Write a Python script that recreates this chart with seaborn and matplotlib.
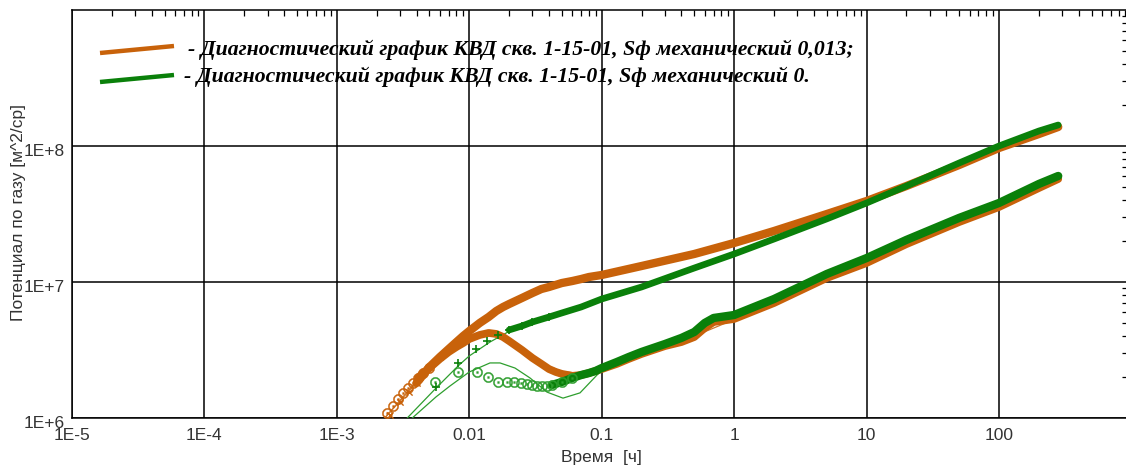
import numpy as np
import pandas as pd
import matplotlib
matplotlib.use("Agg")
import matplotlib.pyplot as plt
import matplotlib.transforms as mtransforms
from matplotlib.lines import Line2D
from matplotlib.ticker import LogLocator, NullFormatter
import seaborn as sns

# ---------------- data ----------------
# Sf mechanical 0.013 (orange): pressure potential & derivative
orange_p_t = [0.0025, 0.003, 0.0035, 0.004, 0.005, 0.006, 0.007, 0.008, 0.009, 0.01,
              0.012, 0.014, 0.016, 0.018, 0.02, 0.025, 0.03, 0.035, 0.04, 0.05,
              0.06, 0.07, 0.08, 0.1, 0.2, 0.5, 1, 2, 5, 10, 20, 50, 100, 200, 280]
orange_p = [1.05e6, 1.31e6, 1.55e6, 1.81e6, 2.37e6, 2.81e6, 3.22e6, 3.62e6, 4.01e6, 4.36e6,
            5.00e6, 5.53e6, 6.12e6, 6.55e6, 6.89e6, 7.63e6, 8.30e6, 8.88e6, 9.19e6, 9.83e6,
            10.17e6, 10.52e6, 10.88e6, 11.26e6, 13.11e6, 16.07e6, 19.36e6, 23.71e6, 31.6e6,
            39.4e6, 50.8e6, 72.5e6, 96.7e6, 122.5e6, 138e6]

orange_d_t = [0.00239, 0.00265, 0.00289, 0.00316, 0.00344, 0.00376, 0.0041, 0.00447,
              0.005, 0.006, 0.007, 0.008, 0.009, 0.01, 0.012, 0.014, 0.016, 0.018, 0.02,
              0.025, 0.03, 0.035, 0.04, 0.045, 0.05, 0.06, 0.07, 0.08, 0.09, 0.1,
              0.13, 0.16, 0.2, 0.3, 0.4, 0.5, 0.6, 0.7, 1, 2, 5, 10, 20, 50, 100, 200, 280]
orange_d = [1.09e6, 1.23e6, 1.38e6, 1.53e6, 1.66e6, 1.81e6, 1.97e6, 2.14e6,
            2.33e6, 2.72e6, 3.06e6, 3.33e6, 3.56e6, 3.81e6, 4.08e6, 4.22e6, 4.15e6, 3.94e6, 3.68e6,
            3.16e6, 2.76e6, 2.50e6, 2.29e6, 2.18e6, 2.11e6, 2.04e6, 2.07e6, 2.14e6, 2.22e6, 2.29e6,
            2.50e6, 2.72e6, 2.96e6, 3.38e6, 3.62e6, 3.94e6, 4.59e6, 5.08e6, 5.35e6, 7.01e6,
            10.7e6, 13.8e6, 19.0e6, 27.6e6, 35.6e6, 49.1e6, 57.2e6]

# Sf mechanical 0 (green): pressure potential & derivative
green_p_t = [0.00561, 0.00822, 0.01124, 0.0136, 0.01647, 0.02, 0.025, 0.03, 0.04, 0.05,
             0.07, 0.1, 0.2, 0.5, 1, 2, 5, 10, 20, 50, 100, 200, 280]
green_p = [1.69e6, 2.54e6, 3.22e6, 3.68e6, 4.08e6, 4.44e6, 4.75e6, 5.08e6, 5.53e6, 5.92e6,
           6.55e6, 7.50e6, 9.19e6, 12.67e6, 16.07e6, 20.7e6, 29.1e6, 38.1e6, 50.8e6, 75.0e6,
           100e6, 128.9e6, 142.7e6]

green_d_t = [0.00551, 0.00822, 0.01143, 0.01384, 0.01647, 0.01927, 0.02176, 0.02458, 0.02728,
             0.02976, 0.03246, 0.0354, 0.03862, 0.04213, 0.05, 0.06, 0.07, 0.08, 0.09, 0.1,
             0.13, 0.16, 0.2, 0.3, 0.4, 0.5, 0.6, 0.7, 1, 2, 5, 10, 20, 50, 100, 200, 280]
green_d = [1.84e6, 2.18e6, 2.18e6, 2.00e6, 1.84e6, 1.84e6, 1.84e6, 1.81e6, 1.78e6,
           1.75e6, 1.72e6, 1.72e6, 1.72e6, 1.75e6, 1.84e6, 1.97e6, 2.07e6, 2.14e6, 2.22e6, 2.33e6,
           2.58e6, 2.81e6, 3.06e6, 3.50e6, 3.88e6, 4.29e6, 5.00e6, 5.44e6, 5.72e6, 7.50e6,
           11.45e6, 15.0e6, 20.4e6, 29.6e6, 38.1e6, 52.6e6, 60.2e6]

# model (thin) curves
orange_pm_t = [0.0023, 0.005, 0.01, 0.02, 0.05, 0.1, 1, 10, 100, 280]
orange_pm = [1.0e6, 2.4e6, 4.3e6, 6.8e6, 9.7e6, 11.2e6, 19.3e6, 39.4e6, 96e6, 138e6]
orange_dm_t = [0.0023, 0.005, 0.01, 0.014, 0.02, 0.03, 0.04, 0.05, 0.07, 0.1, 0.2, 0.5,
               1, 10, 100, 280]
orange_dm = [1.0e6, 2.33e6, 3.85e6, 4.25e6, 3.75e6, 2.85e6, 2.4e6, 2.2e6, 2.12e6, 2.3e6,
             2.95e6, 4.0e6, 5.3e6, 13.8e6, 35.6e6, 57.2e6]
green_pm_t = [0.0033, 0.00561, 0.00822, 0.01, 0.01433, 0.0202, 0.03, 0.05, 0.1, 1, 10, 100, 280]
green_pm = [0.97e6, 1.66e6, 2.41e6, 2.86e6, 3.62e6, 4.36e6, 5.08e6, 5.92e6, 7.5e6, 16.07e6,
            38.1e6, 100e6, 142.7e6]
green_dm_t = [0.00357, 0.00561, 0.00715, 0.01, 0.01433, 0.01706, 0.02214, 0.02873, 0.03862,
              0.051, 0.06855, 0.09213, 0.1155, 0.1945, 0.39, 1, 10, 100, 280]
green_dm = [0.967e6, 1.43e6, 1.72e6, 2.18e6, 2.54e6, 2.54e6, 2.33e6, 1.97e6, 1.55e6,
            1.40e6, 1.53e6, 2.07e6, 2.50e6, 2.96e6, 3.75e6, 5.62e6, 14.8e6, 38.1e6, 60.2e6]

x_ticks = [1e-5, 1e-4, 1e-3, 1e-2, 1e-1, 1, 10, 100]
x_tick_labels = ["1E-5", "1E-4", "1E-3", "0.01", "0.1", "1", "10", "100"]
y_ticks = [1e6, 1e7, 1e8]
y_tick_labels = ["1E+6", "1E+7", "1E+8"]

legend_labels = [
    "- Диагностический график КВД скв. 1-15-01, Sф механический 0,013;",
    "- Диагностический график КВД скв. 1-15-01, Sф механический 0.",
]
x_label = "Время  [ч]"
y_label = "Потенциал по газу [м^2/ср]"

# ---------------- style ----------------
ORANGE = "#C8620A"
GREEN = "#0A800A"
ORANGE_THIN = "#D0782A"
GREEN_THIN = "#2E9E2E"
TXT = "#333333"

sns.set_theme(style="white")
plt.rcParams["font.family"] = ["Liberation Sans Narrow", "Liberation Sans", "DejaVu Sans"]

fig = plt.figure(figsize=(11.26, 4.66), dpi=100)
ax = fig.add_axes([72 / 1126, 48 / 466, 1055.5 / 1126, 408 / 466])
ax.set_xscale("log")
ax.set_yscale("log")


def df_of(t, v):
    return pd.DataFrame({"t": t, "v": v})


def band(t, v, start, color, lw, z):
    d = df_of(t, v).iloc[start:]
    sns.lineplot(data=d, x="t", y="v", ax=ax, sort=False, estimator=None, color=color,
                 lw=lw, zorder=z, solid_capstyle="round", legend=False)


def model(t, v, color, z):
    sns.lineplot(data=df_of(t, v), x="t", y="v", ax=ax, sort=False, estimator=None,
                 color=color, lw=0.9, zorder=z, legend=False)


def marks(t, v, stop, marker, color, s, lw, z):
    d = df_of(t, v).iloc[:stop]
    sns.scatterplot(data=d, x="t", y="v", ax=ax, marker=marker, s=s, color=color,
                    edgecolor=color, facecolor=color, linewidth=lw, zorder=z, legend=False)


# models (under the data)
model(orange_pm_t, orange_pm, ORANGE_THIN, 3)
model(orange_dm_t, orange_dm, ORANGE_THIN, 3)
model(green_pm_t, green_pm, GREEN_THIN, 3)
model(green_dm_t, green_dm, GREEN_THIN, 3)

# orange data
band(orange_d_t, orange_d, 6, ORANGE, 5.6, 4)
marks(orange_d_t, orange_d, 9, r"$\odot$", ORANGE, 55, 0.3, 4)
band(orange_p_t, orange_p, 3, ORANGE, 6.0, 4)
marks(orange_p_t, orange_p, 6, "x", ORANGE, 20, 1.0, 4)

# green data
band(green_d_t, green_d, 13, GREEN, 6.0, 5)
marks(green_d_t, green_d, 16, r"$\odot$", GREEN_THIN, 55, 0.3, 5)
band(green_p_t, green_p, 5, GREEN, 4.8, 5)
marks(green_p_t, green_p, 9, "+", GREEN, 36, 1.2, 5)

# ---------------- axes ----------------
ax.set_xlim(1e-5, 934)
ax.set_ylim(1e6, 1e9)
ax.set_xticks(x_ticks, x_tick_labels)
ax.set_yticks(y_ticks, y_tick_labels)
ax.xaxis.set_minor_locator(LogLocator(base=10, subs=np.arange(2, 10), numticks=20))
ax.yaxis.set_minor_locator(LogLocator(base=10, subs=np.arange(2, 10), numticks=20))
ax.xaxis.set_minor_formatter(NullFormatter())
ax.yaxis.set_minor_formatter(NullFormatter())
ax.grid(True, which="major", color="black", lw=1.1, zorder=1)
ax.grid(False, which="minor")
ax.tick_params(which="both", direction="in", top=True, right=True, colors="black")
ax.tick_params(which="major", length=0, labelsize=12.5, labelcolor=TXT)
ax.tick_params(axis="x", which="major", pad=7)
ax.tick_params(axis="y", which="major", pad=5)
ax.tick_params(which="minor", length=4, width=0.9)
for sp in ax.spines.values():
    sp.set_color("black")
    sp.set_linewidth(1.1)
    sp.set_visible(True)
ax.set_axisbelow(True)

shift = mtransforms.ScaledTranslation(0, -4 / 100, fig.dpi_scale_trans)
for lab in ax.get_yticklabels():
    lab.set_transform(lab.get_transform() + shift)

ax.set_xlabel(x_label, fontsize=12.5, color=TXT)
ax.set_ylabel(y_label, fontsize=12.5, color=TXT)
ax.xaxis.label.set_va("center")
ax.yaxis.label.set_va("center")
ax.xaxis.set_label_coords(0.5012, -0.0956)
ax.yaxis.set_label_coords(-0.0507, 0.5037)

# ---------------- legend (custom) ----------------
fig.add_artist(Line2D([100 / 1126, 174 / 1126], [1 - 53 / 466, 1 - 46 / 466],
                      color=ORANGE, lw=3.2, solid_capstyle="butt"))
fig.add_artist(Line2D([100 / 1126, 174 / 1126], [1 - 82 / 466, 1 - 75 / 466],
                      color=GREEN, lw=3.2, solid_capstyle="butt"))
for txt, xp, yp in zip(legend_labels, [188, 184], [50, 77]):
    fig.text(xp / 1126, 1 - yp / 466, txt, ha="left", va="center", fontsize=15.7,
             family=["Liberation Serif", "DejaVu Serif"], fontweight="bold",
             fontstyle="italic", color="black")

fig.savefig("out.png", dpi=100)
